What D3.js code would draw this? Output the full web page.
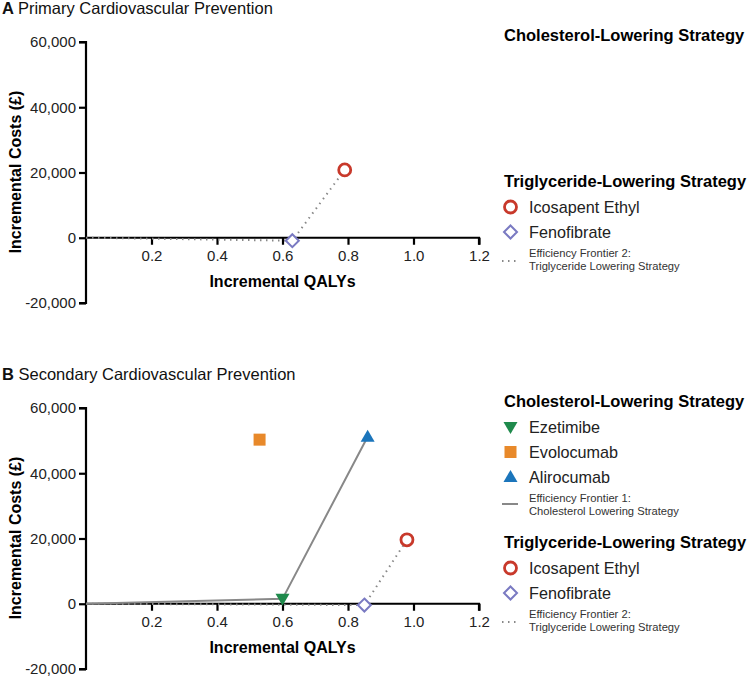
<!DOCTYPE html>
<html>
<head>
<meta charset="utf-8">
<script src="https://cdn.jsdelivr.net/npm/d3@7"></script>
<style>
  body { margin: 0; background: #fff; }
  svg { font-family: "Liberation Sans", Arial, sans-serif; }
</style>
</head>
<body>
<svg id="chart" width="749" height="679"></svg>
<script>
var xTicks = [0.2, 0.4, 0.6, 0.8, 1.0, 1.2];
var yTicks = [-20000, 0, 20000, 40000, 60000];

var strategies = ["Ezetimibe", "Evolocumab", "Alirocumab", "Icosapent Ethyl", "Fenofibrate"];
var groups = ["chol", "chol", "chol", "trig", "trig"];
var colors = ["#1f8a4c", "#e8892a", "#1b75bb", "#c8392b", "#7a7ac2"];
var symbols = ["triDown", "square", "triUp", "circle", "diamond"];

// panel A only has the triglyceride strategies
var qalyPrimary = [null, null, null, 0.79, 0.63];
var costPrimary = [null, null, null, 20800, -900];
var qalySecondary = [0.60, 0.53, 0.86, 0.98, 0.85];
var costSecondary = [1500, 50300, 51200, 19600, -400];

var frontier1 = ["Ezetimibe", "Alirocumab"];
var frontier2 = ["Fenofibrate", "Icosapent Ethyl"];

var svg = d3.select("#chart");

function drawMarker(g, sym, color) {
  if (sym == "circle") {
    g.append("circle").attr("r", 6).attr("fill", "#fff").attr("stroke", color).attr("stroke-width", 2.8);
  } else if (sym == "diamond") {
    g.append("path").attr("d", "M0,-6.5L6.5,0L0,6.5L-6.5,0Z").attr("fill", "#fff").attr("stroke", color).attr("stroke-width", 2);
  } else if (sym == "square") {
    g.append("rect").attr("x", -6).attr("y", -6).attr("width", 12).attr("height", 12).attr("fill", color);
  } else if (sym == "triUp") {
    g.append("path").attr("d", "M0,-7L7,5L-7,5Z").attr("fill", color);
  } else if (sym == "triDown") {
    g.append("path").attr("d", "M0,7L7,-5L-7,-5Z").attr("fill", color);
  }
}

function drawPanel(top, title, letter, qaly, cost, showChol) {
  var x = d3.scaleLinear().domain([0, 1.2]).range([86, 479]);
  var y = d3.scaleLinear().domain([-20000, 60000]).range([top + 303, top + 42]);

  var t = svg.append("text").attr("x", 2).attr("y", top + 14).attr("font-size", 16.5).attr("fill", "#111");
  t.append("tspan").attr("font-weight", "bold").text(letter + " ");
  t.append("tspan").text(title);

  var fmt = d3.format(",");
  var yAxis = svg.append("g").attr("transform", "translate(86,0)")
    .call(d3.axisLeft(y).tickValues(yTicks).tickSize(7).tickFormat(function(d) { return fmt(d).replace("−", "-"); }));
  var xAxis = svg.append("g").attr("transform", "translate(0," + y(0) + ")")
    .call(d3.axisBottom(x).tickValues(xTicks).tickSize(7).tickFormat(d3.format(".1f")));
  [xAxis, yAxis].forEach(function(a) {
    a.select(".domain").attr("stroke", "#000").attr("stroke-width", 2.2);
    a.selectAll(".tick line").attr("stroke", "#000").attr("stroke-width", 2.2);
    a.selectAll(".tick text").attr("font-size", 15).attr("fill", "#222").attr("font-family", "Liberation Sans, Arial, sans-serif");
  });
  yAxis.select(".domain").attr("d", "M-7," + y(60000) + "H0V" + y(-20000) + "H-7");
  xAxis.select(".domain").attr("d", "M" + x(0) + ",0H" + x(1.2) + "V7");
  xAxis.selectAll(".tick text").attr("dy", "0.9em");

  svg.append("text").attr("x", 282.5).attr("y", top + 287).attr("text-anchor", "middle")
    .attr("font-size", 16).attr("font-weight", "bold").text("Incremental QALYs");
  svg.append("text").attr("transform", "translate(21," + (top + 172) + ") rotate(-90)")
    .attr("text-anchor", "middle").attr("font-size", 16).attr("font-weight", "bold").text("Incremental Costs (£)");

  var line = d3.line().x(function(d) { return x(d[0]); }).y(function(d) { return y(d[1]); });
  function frontierPts(names) {
    var pts = [[0, 0]];
    names.forEach(function(n) {
      var i = strategies.indexOf(n);
      if (qaly[i] != null) pts.push([qaly[i], cost[i]]);
    });
    return pts;
  }
  if (showChol) {
    svg.append("path").attr("d", line(frontierPts(frontier1))).attr("fill", "none")
      .attr("stroke", "#888").attr("stroke-width", 2);
  }
  svg.append("path").attr("d", line(frontierPts(frontier2))).attr("fill", "none")
    .attr("stroke", "#888").attr("stroke-width", 2).attr("stroke-dasharray", "1.5,4.5");

  strategies.forEach(function(s, i) {
    if (qaly[i] == null) return;
    var g = svg.append("g").attr("transform", "translate(" + x(qaly[i]) + "," + y(cost[i]) + ")");
    drawMarker(g, symbols[i], colors[i]);
  });

  // legend
  var ly = top + 41;
  svg.append("text").attr("x", 504).attr("y", ly).attr("font-size", 16.5).attr("font-weight", "bold").text("Cholesterol-Lowering Strategy");
  if (showChol) {
    ly += 26;
    strategies.forEach(function(s, i) {
      if (groups[i] != "chol") return;
      var g = svg.append("g").attr("transform", "translate(510.5," + (ly - 6) + ")");
      drawMarker(g, symbols[i], colors[i]);
      svg.append("text").attr("x", 529).attr("y", ly).attr("font-size", 16.2).attr("fill", "#222").text(s);
      ly += 25;
    });
    svg.append("line").attr("x1", 502).attr("x2", 518).attr("y1", ly - 4).attr("y2", ly - 4)
      .attr("stroke", "#888").attr("stroke-width", 2);
    svg.append("text").attr("x", 529).attr("y", ly - 6).attr("font-size", 11.2).attr("fill", "#333").text("Efficiency Frontier 1:");
    svg.append("text").attr("x", 529).attr("y", ly + 7).attr("font-size", 11.2).attr("fill", "#333").text("Cholesterol Lowering Strategy");
    ly += 40;
  } else {
    ly = top + 187;
  }
  svg.append("text").attr("x", 504).attr("y", ly).attr("font-size", 16.5).attr("font-weight", "bold").text("Triglyceride-Lowering Strategy");
  ly += 26;
  strategies.forEach(function(s, i) {
    if (groups[i] != "trig") return;
    var g = svg.append("g").attr("transform", "translate(510.5," + (ly - 6) + ")");
    drawMarker(g, symbols[i], colors[i]);
    svg.append("text").attr("x", 529).attr("y", ly).attr("font-size", 16.2).attr("fill", "#222").text(s);
    ly += 25;
  });
  svg.append("line").attr("x1", 502).attr("x2", 518).attr("y1", ly - 2).attr("y2", ly - 2)
    .attr("stroke", "#888").attr("stroke-width", 2).attr("stroke-dasharray", "1.5,4.5");
  svg.append("text").attr("x", 529).attr("y", ly - 6).attr("font-size", 11.2).attr("fill", "#333").text("Efficiency Frontier 2:");
  svg.append("text").attr("x", 529).attr("y", ly + 7).attr("font-size", 11.2).attr("fill", "#333").text("Triglyceride Lowering Strategy");
}

drawPanel(0, "Primary Cardiovascular Prevention", "A", qalyPrimary, costPrimary, false);
drawPanel(366, "Secondary Cardiovascular Prevention", "B", qalySecondary, costSecondary, true);
</script>
</body>
</html>
